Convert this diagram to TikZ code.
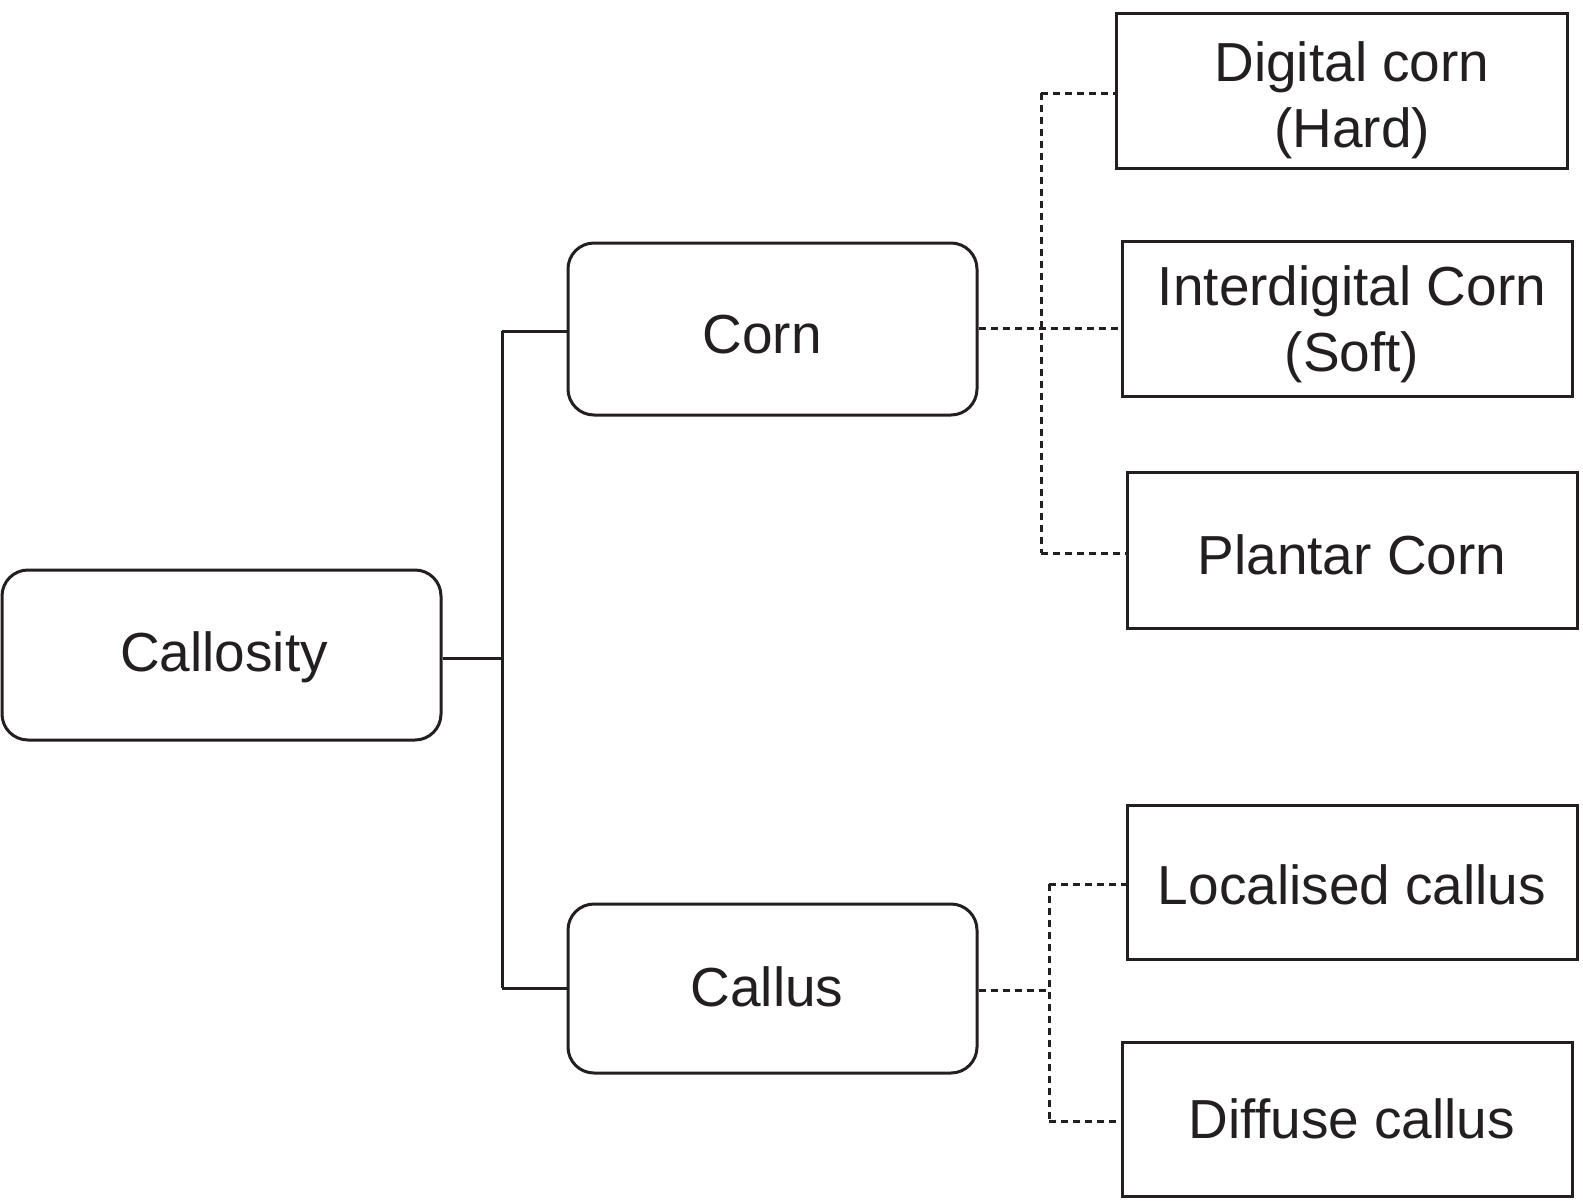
\documentclass[tikz,border=0pt]{standalone}
\usepackage{fontspec}
\setmainfont{Liberation Sans}
\definecolor{ink}{HTML}{231F20}
\begin{document}
\begin{tikzpicture}[x=1pt,y=1pt,
  rbox/.style={draw=ink,line width=3pt,rounded corners=26pt,inner sep=0pt},
  leaf/.style={draw=ink,line width=3pt,inner sep=0pt,minimum width=450pt,minimum height=155pt},
  lbl/.style={text=ink,font=\fontsize{55}{66}\selectfont,align=center,inner sep=0pt},
  solid link/.style={draw=ink,line width=3pt},
  dsh/.style={draw=ink,line width=3pt,dash pattern=on 7pt off 5pt}]
\useasboundingbox (0,0) rectangle (1583,-1200);
\fill[white] (0,0) rectangle (1583,-1200);
% boxes
\node[rbox,minimum width=439pt,minimum height=170pt] (cal) at (221.5,-655) {};
\node[rbox,minimum width=409pt,minimum height=172pt] (corn) at (772.5,-329) {};
\node[rbox,minimum width=409pt,minimum height=169pt] (cls) at (772.5,-988.5) {};
\node[leaf,minimum width=451pt] (dig) at (1341.5,-90.5) {};
\node[leaf] (int) at (1347,-318.5) {};
\node[leaf,minimum height=156pt] (pla) at (1352,-550) {};
\node[leaf,minimum height=154pt] (loc) at (1352,-882) {};
\node[leaf,minimum height=154pt] (dif) at (1347,-1119) {};
% labels
\node[lbl] (calt) at (224,-657) {Callosity};
\node[lbl] (cornt) at (762,-335) {Corn};
\node[lbl] (clst) at (767,-987) {Callus};
\node[lbl] (digt) at (1352,-100) {Digital corn\\(Hard)};
\node[lbl] (intt) at (1352,-324) {Interdigital Corn\\(Soft)};
\node[lbl] (plat) at (1352,-555) {Plantar Corn};
\node[lbl] (loct) at (1352,-885) {Localised callus};
\node[lbl] (dift) at (1352,-1119) {Diffuse callus};
% solid tree
\coordinate (ttop) at (502,-331);
\coordinate (tbot) at (502,-988);
\draw[solid link] (ttop) -- (tbot);
\draw[solid link] (ttop) -- (ttop -| corn.west);
\draw[solid link] (tbot) -- (tbot -| cls.west);
\draw[solid link] (cal.east |- 0,-658) -- (tbot |- 0,-658);
% corn dashed tree
\coordinate (ctop) at (1041,-93);
\coordinate (cbot) at (1041,-553);
\draw[dsh] (ctop) -- (cbot);
\draw[dsh] (ctop) -- (ctop -| dig.west);
\draw[dsh] (cbot) -- (cbot -| pla.west);
\draw[dsh] (corn.east |- 0,-328) -- (int.west |- 0,-328);
% callus dashed tree
\coordinate (ktop) at (1049,-884);
\coordinate (kbot) at (1049,-1121);
\draw[dsh] (ktop) -- (kbot);
\draw[dsh] (ktop) -- (ktop -| loc.west);
\draw[dsh] (kbot) -- (kbot -| dif.west);
\draw[dsh] (cls.east |- 0,-990) -- (ktop |- 0,-990);
\end{tikzpicture}
\end{document}
